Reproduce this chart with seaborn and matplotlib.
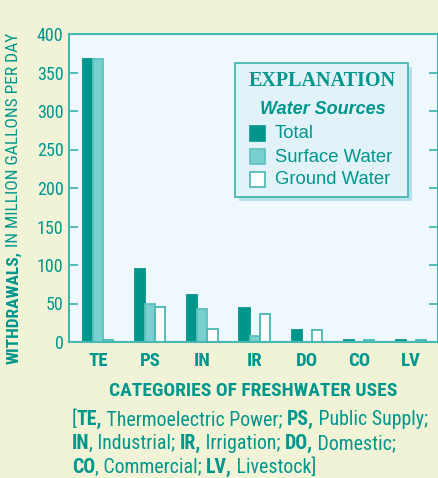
import matplotlib
matplotlib.use("Agg")
import matplotlib.pyplot as plt
from matplotlib.patches import Rectangle
import pandas as pd
import seaborn as sns

# data (million gallons per day)
uses = ["TE", "PS", "IN", "IR", "DO", "CO", "LV"]
sources = ["Total", "Surface Water", "Ground Water"]
total = [367, 95, 61, 44, 15, 3, 3]
surface = [367, 50, 43, 8, 0, 0, 0]
ground = [2, 46, 17, 36, 15, 3, 3]
yticks = [0, 50, 100, 150, 200, 250, 300, 350, 400]

TEAL = "#00968c"
SURF = "#7acfcf"
TXT = "#00968c"
FIG_BG = "#f1f3d6"
AX_BG = "#eef8fd"
SPINE = "#45b8b2"
NARROW = ["Roboto Condensed", "Archivo Narrow", "DejaVu Sans"]
SANS = ["Liberation Sans", "DejaVu Sans"]

df = pd.DataFrame({
    "use": uses * 3,
    "source": [s for s in sources for _ in uses],
    "mgd": total + surface + ground,
})

W, H = 439, 478
fig = plt.figure(figsize=(W / 100, H / 100), dpi=100, facecolor=FIG_BG)

def fx(px):
    return px / W

def fy(py):
    return 1 - py / H

ax = fig.add_axes([fx(69), fy(342), fx(438) - fx(69), fy(34) - fy(342)])
ax.set_facecolor(AX_BG)

sns.barplot(data=df, x="use", y="mgd", hue="source", hue_order=sources,
            palette=[TEAL, SURF, "white"], saturation=1, width=0.58,
            legend=False, ax=ax)

edge_cols = [TEAL, "#5cc0bf", SPINE]
for cont, ec in zip(ax.containers, edge_cols):
    for bar in cont:
        bar.set_edgecolor(ec)
        bar.set_linewidth(1.3)
        bar.set_zorder(2)

ax.set_xlim(-0.56, 6.52)
ax.set_ylim(0, 400)
ax.set_yticks(yticks)
ax.set_yticklabels([str(v) for v in yticks], family=NARROW, fontsize=13,
                   color=TXT)
ax.set_xticks(range(len(uses)))
ax.set_xticklabels(uses, family=NARROW, fontsize=13.5, fontweight="bold",
                   color=TXT)
ax.tick_params(axis="y", direction="in", length=6.5, width=1.3, color=SPINE,
               pad=4, right=True)
ax.tick_params(axis="x", length=0, pad=7)
for sp in ax.spines.values():
    sp.set_color(SPINE)
    sp.set_linewidth(1.5)
    sp.set_zorder(3)
ax.set_ylabel("")
ax.set_xlabel("CATEGORIES OF FRESHWATER USES", family=NARROW, fontsize=14,
              fontweight="bold", color=TXT, labelpad=9)

# y label: bold first word, regular rest
t1 = fig.text(fx(14), fy(364), "WITHDRAWALS,", rotation=90, ha="center",
              va="bottom", family=NARROW, fontsize=12.5, fontweight="bold",
              color=TXT)
fig.canvas.draw()
r = fig.canvas.get_renderer()
bb = t1.get_window_extent(r)
fig.text(fx(14), (bb.y1 + 4) / H, "IN MILLION GALLONS PER DAY", rotation=90,
         ha="center", va="bottom", family=NARROW, fontsize=12.5, color=TXT)

# legend box
box_l, box_t, box_r, box_b = 235, 63, 408, 197
fig.patches.append(Rectangle((fx(box_l + 4), fy(box_b + 4)),
                             fx(box_r - box_l), fy(box_t) - fy(box_b),
                             transform=fig.transFigure, facecolor="#b9dfea",
                             edgecolor="none", zorder=5))
fig.patches.append(Rectangle((fx(box_l), fy(box_b)),
                             fx(box_r - box_l), fy(box_t) - fy(box_b),
                             transform=fig.transFigure, facecolor="#e1f2f9",
                             edgecolor=SPINE, linewidth=1.3, zorder=6))
fig.text(fx(322), fy(81), "EXPLANATION", ha="center", va="center",
         family=["Liberation Serif", "DejaVu Serif"], fontsize=14.5,
         fontweight="bold", color=TXT, zorder=7)
fig.text(fx(323), fy(109), "Water Sources", ha="center", va="center",
         family=SANS, fontsize=13, fontweight="bold", style="italic",
         color=TXT, zorder=7)
for i, (lab, fc, ec) in enumerate(zip(sources, [TEAL, SURF, "white"],
                                      edge_cols)):
    yc = 134 + 23 * i
    fig.patches.append(Rectangle((fx(250), fy(yc + 7)), fx(15), fy(0) - fy(15),
                                 transform=fig.transFigure, facecolor=fc,
                                 edgecolor=ec, linewidth=1.2, zorder=7))
    fig.text(fx(275), fy(yc), lab, ha="left", va="center", family=SANS,
             fontsize=13.3, color=TXT, zorder=7)

# caption with mixed bold / regular segments
caption = [
    [("[", False), ("TE,", True), (" Thermoelectric Power; ", False),
     ("PS,", True), (" Public Supply;", False)],
    [("IN", True), (", Industrial; ", False), ("IR,", True),
     (" Irrigation; ", False), ("DO,", True), (" Domestic;", False)],
    [("CO", True), (", Commercial; ", False), ("LV,", True),
     (" Livestock]", False)],
]
for j, line in enumerate(caption):
    x = 72
    yb = 425 + 24 * j
    for seg, bold in line:
        t = fig.text(fx(x), fy(yb), seg, ha="left", va="baseline",
                     family=NARROW, fontsize=14.3,
                     fontweight="bold" if bold else "normal", color=TXT)
        x = t.get_window_extent(r).x1

fig.savefig("out.png", dpi=100, facecolor=FIG_BG)
